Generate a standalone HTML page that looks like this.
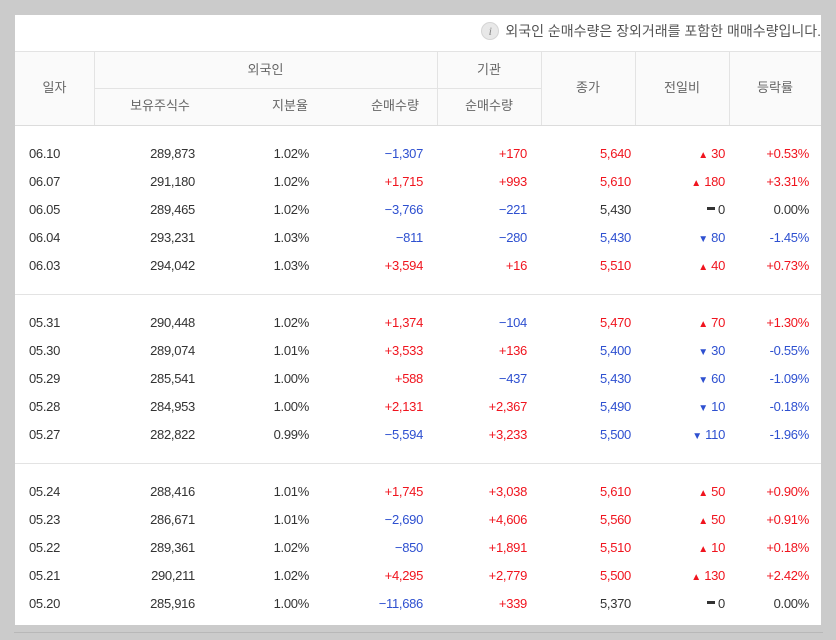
<!DOCTYPE html>
<html><head><meta charset="utf-8">
<style>
body{margin:0;width:836px;height:640px;background:#cbcbcb;font-family:"Liberation Sans","Noto Sans CJK KR",sans-serif;overflow:hidden;position:relative}
#panel{position:absolute;left:15px;top:15px;width:806px;height:610px;background:#fff;overflow:hidden}
.abs{position:absolute}
.hd{position:absolute;color:#666;font-size:13px;text-align:center;line-height:20px}
.hl{position:absolute;background:#e3e3e3;height:1px}
.vl{position:absolute;background:#e3e3e3;width:1px}
.c{position:absolute;font-size:13px;line-height:20px;text-align:right;color:#333;letter-spacing:-0.3px}
.r{color:#f0141e}.b{color:#2e50d0}
</style></head><body>
<div id="panel">
 <div class="abs" style="right:0;top:6px;font-size:14px;color:#555;white-space:nowrap;line-height:20px">
  <span style="display:inline-block;width:16px;height:16px;border-radius:50%;background:#e8e8e8;border:1px solid #d5d5d5;color:#888;font-style:italic;font-family:'Liberation Serif',serif;font-size:12px;text-align:center;line-height:16px;vertical-align:1px;margin-right:6px">i</span>외국인 순매수량은 장외거래를 포함한 매매수량입니다.
 </div>
 <div class="abs" style="left:0;top:36px;width:806px;height:74px;background:#fafafa"></div>
 <div class="hl" style="left:0;top:36px;width:806px"></div>
 <div class="hl" style="left:79px;top:73px;width:447px"></div>
 <div class="hl" style="left:0;top:110px;width:806px;background:#dcdcdc"></div>
 <div class="vl" style="left:79px;top:36px;height:74px"></div>
 <div class="vl" style="left:422px;top:36px;height:74px"></div>
 <div class="vl" style="left:526px;top:36px;height:74px"></div>
 <div class="vl" style="left:620px;top:36px;height:74px"></div>
 <div class="vl" style="left:714px;top:36px;height:74px"></div>
 <div class="hd" style="left:0;width:79px;top:63px">일자</div>
 <div class="hd" style="left:79px;width:343px;top:45px">외국인</div>
 <div class="hd" style="left:422px;width:104px;top:45px">기관</div>
 <div class="hd" style="left:526px;width:94px;top:63px">종가</div>
 <div class="hd" style="left:620px;width:94px;top:63px">전일비</div>
 <div class="hd" style="left:714px;width:92px;top:63px">등락률</div>
 <div class="hd" style="left:100px;width:90px;top:81px">보유주식수</div>
 <div class="hd" style="left:240px;width:70px;top:81px">지분율</div>
 <div class="hd" style="left:345px;width:70px;top:81px">순매수량</div>
 <div class="hd" style="left:439px;width:70px;top:81px">순매수량</div>
 <div class="hl" style="left:0;top:279px;width:806px"></div>
 <div class="hl" style="left:0;top:448px;width:806px"></div>
</div>
<div class="abs" style="left:14px;top:632px;width:809px;height:1px;background:#b8b8b8"></div>
<script>
const dates=["06.10","06.07","06.05","06.04","06.03","05.31","05.30","05.29","05.28","05.27","05.24","05.23","05.22","05.21","05.20"];
const holdings=["289,873","291,180","289,465","293,231","294,042","290,448","289,074","285,541","284,953","282,822","288,416","286,671","289,361","290,211","285,916"];
const ratios=["1.02%","1.02%","1.02%","1.03%","1.03%","1.02%","1.01%","1.00%","1.00%","0.99%","1.01%","1.01%","1.02%","1.02%","1.00%"];
const foreignNet=[-1307,1715,-3766,-811,3594,1374,3533,588,2131,-5594,1745,-2690,-850,4295,-11686];
const instNet=[170,993,-221,-280,16,-104,136,-437,2367,3233,3038,4606,1891,2779,339];
const closes=[5640,5610,5430,5430,5510,5470,5400,5430,5490,5500,5610,5560,5510,5500,5370];
const changes=[30,180,0,-80,40,70,-30,-60,-10,-110,50,50,10,130,0];
const rates=[0.53,3.31,0,-1.45,0.73,1.30,-0.55,-1.09,-0.18,-1.96,0.90,0.91,0.18,2.42,0];
const fmt=n=>Math.abs(n).toLocaleString('en-US');
const sgn=n=>n>0?"+"+fmt(n):n<0?"\u2212"+fmt(n):"0";
const cls=n=>n>0?"r":n<0?"b":"";
const panel=document.getElementById('panel');
function cell(name,right,top,txt,c,left){
 const d=document.createElement('div');
 
 
 d.className='c '+(c||'');
 if(left!=null){d.style.left=left+'px';d.style.textAlign='left';}else d.style.right=(806-right)+'px';
 d.style.top=top+'px';d.innerHTML=txt;panel.appendChild(d);
}
dates.forEach((dt,i)=>{
 const g=Math.floor(i/5),k=i%5;
 const y=129+g*169+k*28;
 cell('date-cell',0,y,dt,'',14);
 d0=document.querySelector;
 cell('holdings-cell',180,y,holdings[i]);
 cell('ratio-cell',294,y,ratios[i]);
 cell('foreign-net-cell',408,y,sgn(foreignNet[i]),cls(foreignNet[i]));
 cell('inst-net-cell',512,y,sgn(instNet[i]),cls(instNet[i]));
 const ch=changes[i];
 cell('close-cell',616,y,closes[i].toLocaleString('en-US'),cls(ch));
 const icon=ch>0?'<span style="font-size:10px">\u25B2</span>':ch<0?'<span style="font-size:10px">\u25BC</span>':'<span style="display:inline-block;width:8px;height:3px;background:#333;vertical-align:4px"></span>';
 cell('change-cell',710,y,icon+' '+Math.abs(ch),cls(ch));
 const r=rates[i];
 cell('rate-cell',794,y,(r>0?'+':r<0?'-':'')+Math.abs(r).toFixed(2)+'%',cls(r));
});
</script>
</body></html>
